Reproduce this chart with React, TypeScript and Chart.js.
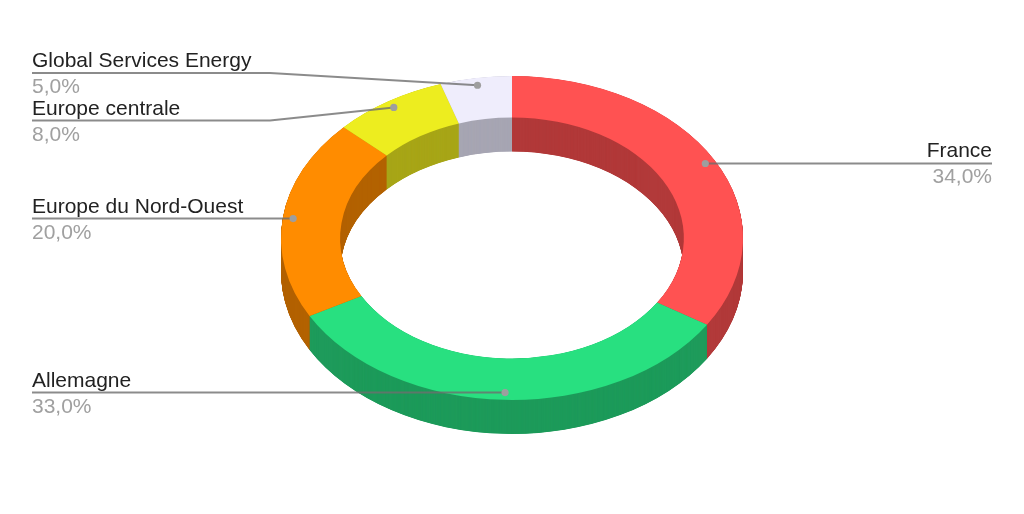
import React, { useEffect, useRef } from "react";
import { Chart, registerables } from "chart.js";

Chart.register(...registerables);

const categories = ["France", "Allemagne", "Europe du Nord-Ouest", "Europe centrale", "Global Services Energy"];
const shares = [34, 33, 20, 8, 5];
const topColors = ["#FF5252", "#28E080", "#FF8C00", "#EDED1F", "#EFEDFC"];
const wallColors = ["#B23A3A", "#1E9B5B", "#B36200", "#A8A618", "#A7A6B3"];

const CENTER_Y = 238;
const TILT = 0.701;
const DEPTH = 34;
const LEFT_X = 32;
const RIGHT_X = 992;
const ELBOW_X = 270;
const callouts: Record<string, number> = { "Global Services Energy": 73, "Europe centrale": 120.5 };
const FONT = '21px "Liberation Sans", Arial, sans-serif';

function tilt(ctx: CanvasRenderingContext2D, chart: any, shift: number) {
  const mid = (chart.chartArea.top + chart.chartArea.bottom) / 2;
  ctx.translate(0, CENTER_Y + shift);
  ctx.scale(1, TILT);
  ctx.translate(0, -mid);
}

const ring3d = {
  id: "ring3d",
  beforeDatasetsDraw(chart: any) {
    const ctx = chart.ctx as CanvasRenderingContext2D;
    const arcs = chart.getDatasetMeta(0).data;
    for (let k = DEPTH; k >= 0.25; k -= 0.25) {
      ctx.save();
      tilt(ctx, chart, k);
      arcs.forEach((arc: any, i: number) => {
        const original = arc.options.backgroundColor;
        arc.options.backgroundColor = wallColors[i];
        arc.draw(ctx);
        arc.options.backgroundColor = original;
      });
      ctx.restore();
    }
    ctx.save();
    tilt(ctx, chart, 0);
  },
  afterDatasetsDraw(chart: any) {
    const ctx = chart.ctx as CanvasRenderingContext2D;
    ctx.restore();
    const arcs = chart.getDatasetMeta(0).data;
    arcs.forEach((arc: any, i: number) => {
      const mid = (arc.startAngle + arc.endAngle) / 2;
      const r = arc.outerRadius * 0.955;
      const px = arc.x + Math.cos(mid) * r;
      const py = CENTER_Y + Math.sin(mid) * r * TILT;
      const right = px > arc.x;
      const name = categories[i];
      const lineY = callouts[name] ?? py;
      const endX = right ? RIGHT_X : LEFT_X;

      ctx.strokeStyle = "rgba(110,110,110,0.8)";
      ctx.lineWidth = 2;
      ctx.beginPath();
      ctx.moveTo(endX, lineY);
      if (callouts[name] !== undefined) ctx.lineTo(ELBOW_X, lineY);
      ctx.lineTo(px, py);
      ctx.stroke();

      ctx.fillStyle = "#9E9E9E";
      ctx.beginPath();
      ctx.arc(px, py, 3.6, 0, Math.PI * 2);
      ctx.fill();

      ctx.font = FONT;
      ctx.textAlign = right ? "right" : "left";
      ctx.textBaseline = "alphabetic";
      ctx.fillStyle = "#222222";
      ctx.fillText(name, endX, lineY - 6);
      ctx.fillStyle = "#A0A0A0";
      ctx.fillText(shares[i].toFixed(1).replace(".", ",") + "%", endX, lineY + 20);
    });
  },
};

export default function App() {
  const ref = useRef<HTMLCanvasElement>(null);
  useEffect(() => {
    document.body.style.margin = "0";
    document.body.style.background = "#fff";
    const chart = new Chart(ref.current!, {
      type: "doughnut",
      data: {
        labels: categories,
        datasets: [{ data: shares, backgroundColor: topColors, borderWidth: 0, clip: false } as any],
      },
      options: {
        responsive: false,
        animation: false,
        cutout: "74.4%",
        layout: { padding: 26 },
        plugins: { legend: { display: false }, tooltip: { enabled: false } },
      },
      plugins: [ring3d],
    });
    return () => chart.destroy();
  }, []);
  return <canvas ref={ref} width={1024} height={514} style={{ display: "block" }} />;
}
